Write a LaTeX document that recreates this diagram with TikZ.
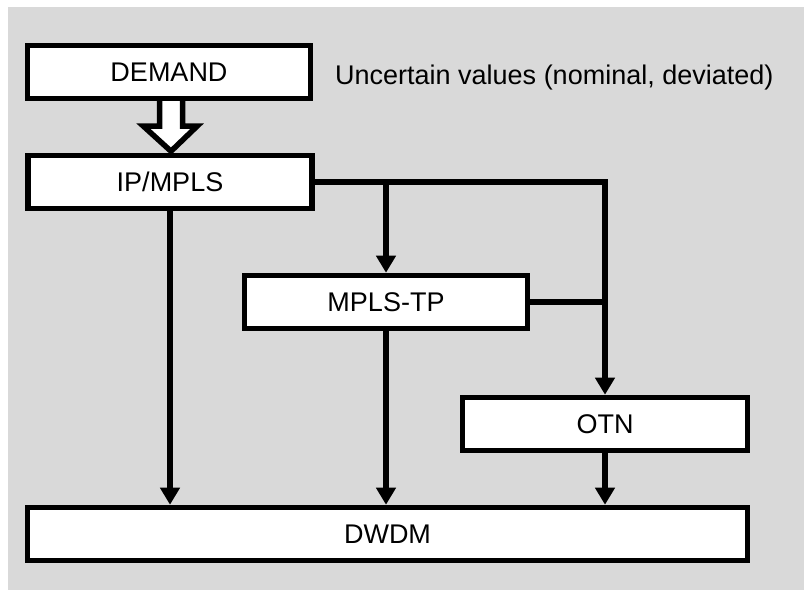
\documentclass[tikz,border=0pt]{standalone}
\usepackage{fontspec}
\setmainfont{Liberation Sans}
\usetikzlibrary{arrows.meta,calc}

\tikzset{
    layerbox/.style = {draw, fill=white, line width=5.5bp, inner sep=0pt,
        minimum width=#1, minimum height=53bp},
    layerbox/.default = 283bp,
    flowarrow/.style = {line width=5.5bp, -{Triangle[width=19bp,length=17bp]}},
}

\begin{document}
\begin{tikzpicture}[x = 1bp, y = 1bp, font = \fontsize{27bp}{32bp}\selectfont]
    \useasboundingbox (0,0) rectangle (804,590);
    \fill[black!15] (8,0) rectangle (804,583);

    \node[layerbox] (demand) at (169,518) {DEMAND};
    \node[layerbox=284bp] (ipmpls) at (170,408) {IP/MPLS};
    \node[layerbox] (mplstp) at (386,288) {MPLS-TP};
    \node[layerbox=285bp] (otn) at (605,166) {OTN};
    \node[layerbox=720bp] (dwdm) at (387.5,56) {DWDM};
    \node[anchor=base west, inner sep=0pt] (uncertain) at (335,505)
        {Uncertain values (nominal, deviated)};

    % demand enters the IP/MPLS layer
    \draw[line width=5.5bp, fill=white]
    ($(demand.south)+(-9.5,0)$) -- ++(0,-25) -- ++(-16,0)
    -- ($(demand.south)+(2,-50)$) -- ($(demand.south)+(28,-25)$)
    -- ($(demand.south)+(13.5,-25)$) -- ($(demand.south)+(13.5,0)$);

    \begin{scope}[flowarrow]
    \draw (ipmpls.south) -- (ipmpls.south |- dwdm.north);
    \draw (ipmpls.east) -| (otn.north);
    \draw (ipmpls.east -| mplstp.north) -- (mplstp.north);
    \draw[-] (mplstp.east) -- (mplstp.east -| otn.north);
    \draw (mplstp.south) -- (mplstp.south |- dwdm.north);
    \draw (otn.south) -- (otn.south |- dwdm.north);
    \end{scope}
\end{tikzpicture}
\end{document}
